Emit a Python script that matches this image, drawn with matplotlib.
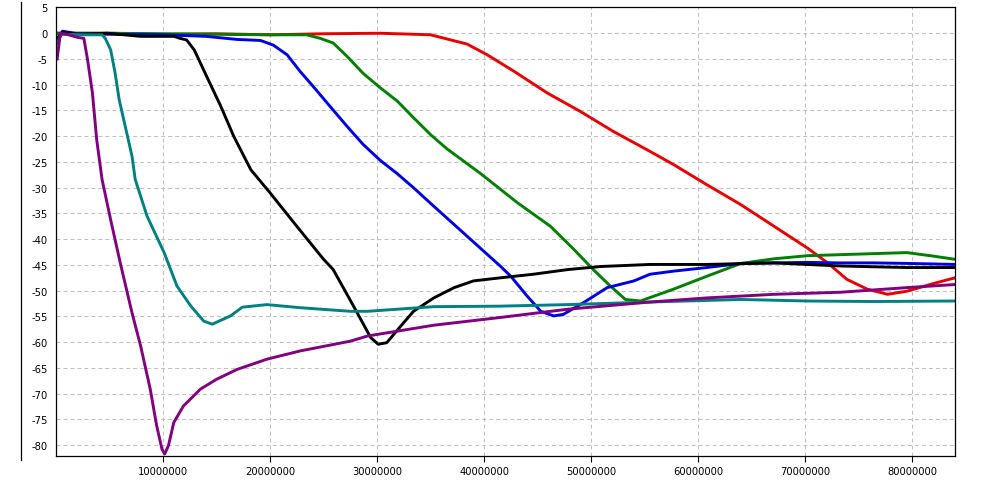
import numpy as np
import matplotlib
matplotlib.use("Agg")
import matplotlib.pyplot as plt
from matplotlib.lines import Line2D

# x values in millions, y values
red_x = [0, 5, 10, 15, 20, 25, 30.3, 35, 38.4, 40.3, 42.8, 45.9, 49, 52.1, 55.2, 57.7, 60.8,
         64, 67.1, 70.2, 72.1, 73.9, 75.8, 77.7, 79.5, 82, 84]
red_y = [0, 0, -0.2, -0.1, -0.3, -0.1, 0, -0.3, -2.1, -4.2, -7.4, -11.6, -15.2, -19.1, -22.6,
         -25.5, -29.4, -33.3, -37.5, -41.7, -44.6, -47.8, -49.7, -50.7, -50.1, -48.6, -47.5]

green_x = [0, 5, 10, 15, 20, 23.4, 24.7, 25.9, 27.2, 28.7, 30.3, 31.9, 33.4, 35, 36.5, 39.7,
           43.1, 46.2, 48.4, 50.2, 51.8, 53.2, 54.6, 57.7, 60.8, 64, 67.1, 70.2, 73.3, 76.4,
           79.5, 81.7, 84]
green_y = [0, 0, -0.1, -0.2, -0.3, -0.3, -1.0, -1.9, -4.5, -7.8, -10.6, -13.2, -16.4, -19.7,
           -22.4, -27.3, -32.9, -37.5, -42, -45.9, -49.1, -51.7, -52, -49.7, -47.2, -44.7,
           -43.8, -43.2, -43, -42.8, -42.6, -43.2, -43.9]

blue_x = [0.1, 0.6, 2, 5, 10, 14, 16.9, 19.1, 20.3, 21.6, 22.8, 24.1, 25.6, 27.2, 28.7, 30.3,
          31.9, 33.4, 35.3, 38.4, 41.5, 42.5, 44, 45.3, 46.5, 47.4, 49.3, 51.5, 54, 55.5,
          57.7, 60.8, 64, 67.1, 70.2, 73.3, 76.4, 79.5, 84]
blue_y = [-1.5, 0.4, -0.1, -0.2, -0.3, -0.6, -1.2, -1.4, -2.3, -4.2, -7.4, -10.5, -14.2, -18.1,
          -21.6, -24.7, -27.3, -30, -33.6, -39.4, -45.2, -47.2, -51, -54, -54.9, -54.6, -52.3,
          -49.4, -48.1, -46.8, -46.2, -45.5, -44.7, -44.6, -44.5, -44.6, -44.6, -44.7, -44.9]

black_x = [0.1, 0.6, 2, 4.8, 7.9, 11, 11.6, 12.2, 12.9, 13.2, 14.1, 15.4, 16.6, 18.2, 20, 22.5,
           25, 25.9, 27.8, 29.4, 30.1, 30.9, 32.2, 33.4, 35.3, 37.2, 39, 41.5, 44.6, 47.8,
           50.9, 55.5, 60.8, 67.1, 73.3, 79.5, 84]
black_y = [-1.0, 0.2, -0.2, 0, -0.6, -0.6, -1.0, -1.3, -3.2, -4.5, -8.5, -14.2, -20, -26.5,
           -31, -37.5, -43.9, -45.9, -53, -59.1, -60.4, -60.1, -56.9, -54, -51.4, -49.4,
           -48.1, -47.5, -46.8, -45.9, -45.3, -44.9, -44.9, -44.6, -45.2, -45.5, -45.5]

teal_x = [0.1, 0.5, 2.6, 4.3, 4.6, 5.1, 5.5, 5.9, 7.1, 7.4, 8.5, 10.1, 11.3, 12.6, 13.8,
          14.6, 16.3, 17.4, 19.7, 22.8, 27.5, 29.1, 35.3, 41.5, 47.8, 55.5, 64, 70.2, 76.4, 84]
teal_y = [-2.0, -0.2, -0.3, -0.3, -1.0, -3.2, -7.5, -12.9, -23.9, -28.4, -35.5, -42.6,
          -49.1, -53, -55.9, -56.5, -54.9, -53.2, -52.7, -53.3, -54, -54, -53.1, -53, -52.7,
          -52.2, -51.7, -52, -52.1, -52]

purple_x = [0.1, 0.4, 1, 2, 2.6, 2.95, 3.4, 3.8, 4.3, 5.1, 6, 7.1, 7.9, 8.8, 9.4, 9.9, 10.15,
            10.5, 11, 11.9, 13.5, 15, 16.9, 19.7, 22.8, 27.5, 29.1, 35.3, 41.5, 47.8, 55.5,
            60.8, 67.1, 73.3, 79.5, 84]
purple_y = [-5, 0, -0.2, -0.8, -1.0, -5.2, -11.6, -20.7, -28.4, -36.2, -44.6, -54.3, -60.7,
            -69.1, -76.2, -80.8, -81.7, -80.1, -75.6, -72.4, -69.1, -67.2, -65.3, -63.3, -61.7,
            -59.8, -58.8, -56.7, -55.2, -53.6, -52.2, -51.4, -50.7, -50.3, -49.4, -48.8]

series = [
    (red_x, red_y, "#e80000"),
    (green_x, green_y, "#007f00"),
    (blue_x, blue_y, "#0000e0"),
    (black_x, black_y, "#000000"),
    (teal_x, teal_y, "#008080"),
    (purple_x, purple_y, "#800080"),
]

xticks = np.arange(10, 81, 10) * 1e6
yticks = np.arange(5, -81, -5)

fig = plt.figure(figsize=(9.92, 4.81), dpi=100)
ax = fig.add_axes([0.0565, 0.0499, 0.9062, 0.9335])

for xs, ys, c in series:
    ax.plot(np.array(xs) * 1e6, ys, color=c, linewidth=2.1, solid_joinstyle="round")

ax.set_xlim(0, 84e6)
ax.set_ylim(-82.1, 5.1)
ax.set_xticks(xticks)
ax.set_xticklabels([str(int(v)) for v in xticks])
ax.set_yticks(yticks)
ax.set_yticklabels([str(int(v)) for v in yticks])
ax.tick_params(axis="y", length=0, pad=6, labelsize=7.2)
ax.tick_params(axis="x", length=4, pad=3, labelsize=7.2, width=0.8)
ax.grid(True, color="#c0c0c0", linewidth=0.75, linestyle=(0, (3.8, 2.9)))
ax.set_axisbelow(True)
for sp in ax.spines.values():
    sp.set_linewidth(0.9)
    sp.set_color("black")

# separate vertical rule at the far left
fig.add_artist(Line2D([0.0209, 0.0209], [0.994, 0.0416], color="black", linewidth=0.9))

fig.savefig("out.png", dpi=100)
